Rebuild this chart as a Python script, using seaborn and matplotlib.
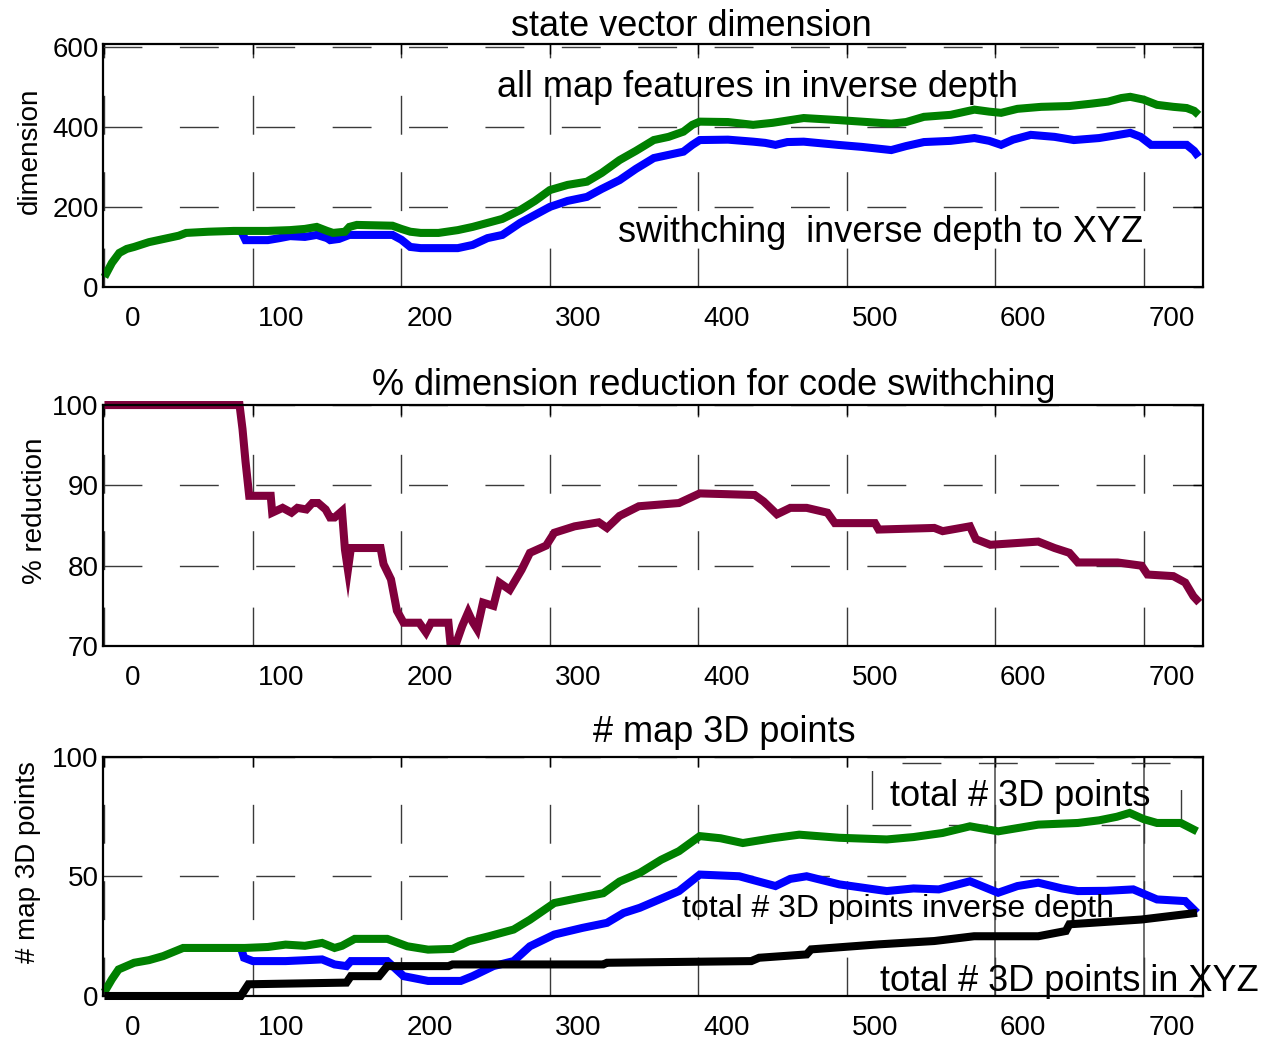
import numpy as np
import pandas as pd
import seaborn as sns
import matplotlib
matplotlib.use("Agg")
import matplotlib.pyplot as plt
import matplotlib.transforms as mtransforms
from matplotlib.patches import Rectangle

# ---- state vector dimension -------------------------------------------------
dim_all_x = [0, 5, 10, 15, 20, 30, 40, 50, 55, 70, 87, 100, 110, 125, 135, 143, 150, 154, 162,
             165, 170, 194, 200, 206, 213, 225, 238, 248, 258, 268, 280, 290, 300, 312, 325,
             335, 347, 358, 370, 380, 390, 396, 401, 420, 437, 450, 471, 494, 510, 530, 540,
             552, 570, 586, 596, 604, 615, 631, 650, 665, 676, 685, 691, 700, 709, 720, 729,
             734, 737]
dim_all_y = [25, 60, 85, 95, 100, 112, 120, 128, 135, 138, 140, 140, 140, 142, 145, 150, 140, 135,
             138, 150, 155, 153, 145, 138, 135, 135, 142, 150, 160, 170, 192, 215, 242, 255, 263,
             285, 317, 340, 367, 375, 388, 405, 413, 412, 405, 410, 422, 417, 413, 408, 412,
             425, 430, 443, 438, 435, 445, 450, 452, 458, 463, 472, 475, 468, 455, 450, 447,
             440, 430]

dim_sw_x = [92, 95, 110, 118, 125, 135, 143, 150, 152, 158, 165, 194, 200, 206, 213, 238, 248,
            258, 268, 280, 290, 300, 312, 325, 335, 347, 358, 370, 380, 390, 396, 401, 420,
            437, 445, 452, 460, 471, 494, 510, 530, 540, 552, 570, 586, 596, 604, 612, 624,
            640, 653, 670, 680, 691, 698, 705, 729, 734, 737]
dim_sw_y = [140, 117, 117, 122, 127, 125, 130, 122, 117, 120, 130, 130, 118, 100, 97, 97, 105,
            122, 130, 160, 180, 200, 215, 225, 245, 267, 295, 322, 330, 338, 355, 367, 368,
            363, 360, 355, 362, 363, 355, 350, 342, 352, 362, 365, 372, 365, 355, 368, 380,
            375, 367, 372, 378, 385, 375, 355, 355, 340, 325]

# ---- % dimension reduction --------------------------------------------------
red_x = [0, 91, 93, 95, 97.5, 112, 113, 120, 126, 130, 136, 140, 144, 149, 152, 155, 160, 162,
         164, 166, 186, 188, 193, 197, 201.5, 212, 216.6, 220, 231.7, 233, 237, 241, 245, 248,
         251, 255, 262, 266, 273, 281, 286.6, 297.5, 303, 316.7, 333, 338.5, 347, 360, 387,
         401, 438, 444, 453, 462, 473, 487, 492, 519, 521.5, 559, 564.6, 583, 587, 596.7, 629,
         640, 650, 655.7, 682.5, 698.6, 702.6, 720, 728, 733.5, 737.5]
red_y = [100, 100, 97, 93, 88.7, 88.7, 86.6, 87.2, 86.6, 87.2, 87, 87.8, 87.8, 87, 86, 86, 86.8,
         82, 79.5, 82.2, 82.2, 80.2, 78.3, 74.4, 72.9, 72.9, 71.7, 72.9, 72.9, 70.4, 70.4, 72.5,
         74.2, 73, 72.1, 75.4, 75, 77.9, 77, 79.5, 81.6, 82.5, 84.1, 84.9, 85.4, 84.7, 86.2,
         87.4, 87.8, 89, 88.8, 88, 86.4, 87.2, 87.2, 86.6, 85.3, 85.3, 84.5, 84.7, 84.3, 84.9,
         83.3, 82.6, 83, 82.2, 81.6, 80.4, 80.4, 80, 78.9, 78.7, 77.9, 76.2, 75.4]

# ---- number of map 3D points ------------------------------------------------
pts_total_x = [0, 5, 9.5, 20, 30, 39.6, 53, 67, 94.5, 110, 122, 135, 146.6, 155, 160, 168.6,
               190.5, 204, 218, 234.5, 245.4, 259, 275.6, 286.6, 303, 319.5, 336, 347, 360.6,
               375, 387, 401, 415, 430, 450, 468, 495, 527, 545, 564.5, 583, 602, 629, 655.7,
               670, 682, 690.6, 700, 709, 725, 736]
pts_total_y = [1.7, 7, 11.1, 13.9, 15, 16.7, 20.1, 20.1, 20.1, 20.5, 21.5, 21, 22.2, 20.1, 21,
               23.9, 23.9, 20.8, 19.4, 19.7, 22.9, 25, 27.8, 31.9, 38.9, 41, 43, 47.9, 51.5, 57,
               60.6, 66.9, 66, 64, 66, 67.5, 66.2, 65.5, 66.5, 68.2, 71, 68.9, 71.7, 72.4, 73.5,
               75, 76.6, 74, 72.4, 72.4, 68.9]

pts_inv_x = [92, 94, 100, 122, 146.6, 155, 163, 166, 190.5, 201.5, 218, 240, 248, 262, 275.6,
             286.6, 303, 322, 338.5, 349.6, 360.6, 387, 401, 427.6, 440, 452, 462, 473, 495,
             527, 545, 562, 583, 602, 615, 629, 645, 655.7, 675, 693, 709, 728, 736]
pts_inv_y = [20, 16, 14.6, 14.6, 15.3, 13.2, 12.5, 14.6, 14.6, 8.3, 6.3, 6.3, 8.3, 12.5, 14.6,
             20.8, 25.7, 28.5, 30.6, 34.7, 36.9, 43.9, 50.8, 50.1, 48, 46, 49, 50.1, 46.7, 43.9,
             45, 44.6, 48, 43.2, 46, 47.4, 45, 43.9, 44, 44.6, 40.4, 39.7, 34.8]

pts_xyz_x = [0, 91.8, 97, 163, 166, 185, 190.5, 231.7, 234.5, 336, 338.5, 435.7, 441, 473, 476,
             521.5, 559, 585.8, 629, 647.6, 650, 698.6, 736]
pts_xyz_y = [0, 0, 4.9, 5.6, 8.3, 8.3, 12.5, 12.5, 13.2, 13.2, 13.9, 14.6, 16, 17.4, 19.5, 21.6,
             23, 25, 25, 27.2, 30, 32, 34.8]

x_ticks = [0, 100, 200, 300, 400, 500, 600, 700]

GREEN = "#008000"
BLUE = "#0000FF"
MAROON = "#80003C"
BLACK = "#000000"
LW = 5.8

sns.set_theme(style="white")
plt.rcParams["font.family"] = ["Liberation Sans", "DejaVu Sans"]
plt.rcParams["text.color"] = "black"
plt.rcParams["axes.labelcolor"] = "black"
plt.rcParams["xtick.color"] = "black"
plt.rcParams["ytick.color"] = "black"

fig = plt.figure(figsize=(12.65, 10.45), dpi=100)
ax_top = fig.add_axes([0.0814, 0.7254, 0.8696, 0.2325])
ax_mid = fig.add_axes([0.0814, 0.3818, 0.8696, 0.2306])
ax_bot = fig.add_axes([0.0814, 0.0469, 0.8696, 0.2287])

GRID_DASH = (0, (28, 27))
label_shift = mtransforms.ScaledTranslation(0.28, 0, fig.dpi_scale_trans)


def style_axes(ax, yticks, ylim, ylabel, ylabel_x):
    ax.set_xlim(-1, 740)
    ax.set_ylim(*ylim)
    ax.set_xticks(x_ticks)
    ax.set_yticks(yticks)
    ax.grid(True, linestyle=GRID_DASH, color="#3a3a3a", linewidth=1.0)
    ax.set_axisbelow(True)
    ax.tick_params(axis="both", direction="in", top=True, right=True, length=7,
                   width=1.0, color="black", labelsize=20, labelcolor="black")
    ax.tick_params(axis="x", pad=14)
    ax.tick_params(axis="y", pad=3)
    for lab in ax.get_xticklabels():
        lab.set_transform(lab.get_transform() + label_shift)
    for side in ax.spines.values():
        side.set_visible(True)
        side.set_color("black")
        side.set_linewidth(1.6)
    ax.set_xlabel("")
    ax.set_ylabel(ylabel, fontsize=20, color="black")
    ax.yaxis.set_label_coords(ylabel_x, 0.56)


def draw(ax, x, y, color):
    df = pd.DataFrame({"x": x, "y": y})
    sns.lineplot(data=df, x="x", y="y", ax=ax, color=color, linewidth=LW,
                 sort=False, estimator=None, clip_on=False, solid_joinstyle="miter",
                 solid_capstyle="butt")


# top panel
draw(ax_top, dim_sw_x, dim_sw_y, BLUE)
draw(ax_top, dim_all_x, dim_all_y, GREEN)
style_axes(ax_top, [0, 200, 400, 600], (0, 607), "dimension", -0.055)
ax_top.text(0.535, 1.033, "state vector dimension", transform=ax_top.transAxes,
            ha="center", va="baseline", fontsize=26, color="black")
ax_top.text(440, 475, "all map features in inverse depth", ha="center", va="baseline",
            fontsize=26, color="black")
ax_top.text(523, 113, "swithching  inverse depth to XYZ", ha="center", va="baseline",
            fontsize=26, color="black")

# middle panel
draw(ax_mid, red_x, red_y, MAROON)
style_axes(ax_mid, [70, 80, 90, 100], (70, 100), "% reduction", -0.050)
ax_mid.text(0.555, 1.042, "% dimension reduction for code swithching",
            transform=ax_mid.transAxes, ha="center", va="baseline", fontsize=26,
            color="black")

# bottom panel
draw(ax_bot, pts_inv_x, pts_inv_y, BLUE)
draw(ax_bot, pts_total_x, pts_total_y, GREEN)
draw(ax_bot, pts_xyz_x, pts_xyz_y, BLACK)
style_axes(ax_bot, [0, 50, 100], (0, 100), "# map 3D points", -0.056)
for xv in (600, 700):
    ax_bot.axvline(xv, color="#555555", linewidth=1.2, zorder=0.5)
ax_bot.add_patch(Rectangle((516.7, 71.7), 208.3, 25.8, fill=False, edgecolor="#3a3a3a",
                           linewidth=1.0, linestyle=GRID_DASH, zorder=0.6))
ax_bot.text(0.565, 1.063, "# map 3D points", transform=ax_bot.transAxes,
            ha="center", va="baseline", fontsize=26, color="black")
ax_bot.text(617, 79.6, "total # 3D points", ha="center", va="baseline", fontsize=26,
            color="black")
ax_bot.text(534.6, 33, "total # 3D points inverse depth", ha="center", va="baseline",
            fontsize=23, color="black")
ax_bot.text(650, 2.1, "total # 3D points in XYZ", ha="center", va="baseline", fontsize=26,
            color="black", clip_on=False)

fig.savefig("out.png", dpi=100, facecolor="white")
